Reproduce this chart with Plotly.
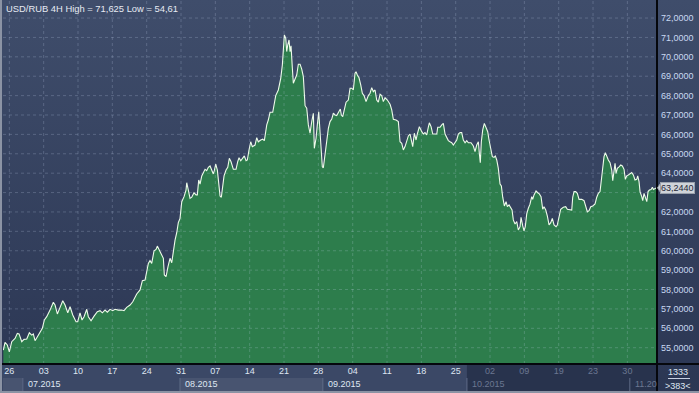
import base64
import pandas as pd
import plotly.graph_objects as go

# ---------------- data ----------------
START = "2015-06-26"
DAY_OFFSETS = [
    -1.22, -0.88, -0.41, 0.00, 0.49, 1.16, 1.63, 1.98, 2.53, 3.00, 3.55, 4.08, 4.57, 4.89, 5.24, 5.71,
    6.26, 6.73, 7.14, 7.62, 8.30, 8.97, 9.32, 9.79, 10.34, 10.89, 11.36, 11.91, 12.38, 12.93, 13.60, 13.94,
    14.41, 14.82, 15.23, 15.78, 16.11, 16.66, 17.27, 17.94, 18.49, 18.96, 19.51, 19.98, 20.53, 21.08, 21.55,
    22.22, 22.92, 23.38, 23.93, 24.61, 25.16, 25.97, 26.65, 27.12, 27.67, 28.01, 28.34, 28.68, 29.03, 29.50,
    29.91, 30.17, 30.58, 31.07, 31.40, 31.60, 31.95, 32.35, 32.76, 33.11, 33.44, 33.78, 34.13, 34.45, 34.80,
    34.94, 35.15, 35.62, 36.02, 36.17, 36.49, 36.84, 37.19, 37.65, 38.06, 38.33, 38.61, 38.88, 39.23, 39.55,
    39.90, 40.24, 40.57, 40.92, 41.26, 41.59, 41.79, 42.08, 42.41, 42.69, 42.96, 43.22, 43.51, 43.77, 44.18,
    44.53, 44.85, 45.20, 45.67, 46.22, 46.56, 46.83, 47.18, 47.58, 47.91, 48.26, 48.52, 48.87, 49.21, 49.54,
    50.09, 50.44, 50.76, 51.25, 51.66, 51.99, 52.13, 52.48, 52.80, 53.15, 53.70, 53.96, 54.31, 54.84, 55.33,
    55.66, 55.86, 56.07, 56.35, 56.55, 56.76, 57.02, 57.23, 57.43, 57.70, 57.90, 58.25, 58.59, 58.92, 59.27,
    59.61, 59.94, 60.29, 60.63, 60.96, 61.30, 61.65, 61.98, 62.18, 62.53, 62.79, 63.08, 63.34, 63.55, 63.81,
    64.02, 64.36, 64.71, 65.04, 65.38, 65.73, 66.06, 66.40, 66.75, 67.22, 67.48, 67.69, 67.97, 68.24, 68.65,
    69.11, 69.46, 69.81, 70.13, 70.48, 70.68, 70.95, 71.29, 71.64, 71.97, 72.32, 72.72, 73.19, 73.54, 73.88,
    74.21, 74.56, 74.90, 75.23, 75.58, 75.92, 76.25, 76.60, 77.07, 77.62, 77.96, 78.29, 78.84, 79.31, 79.65,
    80.00, 80.33, 80.67, 81.02, 81.35, 81.69, 82.04, 82.24, 82.57, 82.92, 83.18, 83.59, 84.08, 84.40, 84.75,
    85.10, 85.42, 85.63, 85.98, 86.32, 86.79, 87.14, 87.34, 87.81, 88.16, 88.48, 88.83, 89.18, 89.50, 89.85,
    90.19, 90.52, 90.87, 91.21, 91.54, 91.89, 92.23, 92.56, 92.91, 93.25, 93.58, 94.13, 94.60, 94.94, 95.29,
    95.62, 95.82, 96.02, 96.23, 96.51, 96.84, 97.19, 97.53, 97.80, 98.15, 98.47, 98.82, 99.08, 99.37, 99.69,
    100.04, 100.31, 100.59, 100.92, 101.27, 101.53, 101.88, 102.22, 102.49, 102.75, 103.10, 103.45, 103.77,
    104.12, 104.32, 104.67, 104.93, 105.19, 105.48, 105.81, 106.15, 106.50, 106.70, 106.97, 107.38, 107.73,
    108.05, 108.40, 108.74, 109.01, 109.36, 109.69, 110.03, 110.38, 110.70, 111.05, 111.46, 111.72, 112.07,
    112.41, 112.94, 113.43, 113.76, 114.31, 114.66, 114.86, 115.13, 115.47, 115.80, 116.15, 116.70, 117.17,
    117.51, 117.84, 118.19, 118.53, 118.94, 119.41, 119.76, 120.08, 120.43, 120.63, 120.90, 121.24, 121.51,
    121.79, 122.12, 122.47, 122.81, 123.02, 123.28, 123.49, 123.69, 123.96, 124.30, 124.65, 124.98, 125.32,
    125.59, 125.87, 126.20, 126.54, 126.89, 127.22, 127.56, 127.91, 128.11, 128.38, 128.58, 128.93, 129.13,
    129.40, 129.67, 129.96, 130.22, 130.49, 130.83, 131.10, 131.30, 131.65, 131.96,
]
USD_RUB = [
    54.88, 55.28, 55.14, 54.79, 55.31, 55.48, 55.74, 55.71, 55.31, 55.43, 55.45, 55.77, 55.65, 55.71, 55.36, 55.57,
    55.83, 56.00, 56.43, 56.60, 56.94, 57.34, 57.20, 56.74, 57.08, 57.42, 57.20, 56.80, 57.11, 56.69, 56.34, 56.34,
    56.80, 56.43, 56.60, 56.98, 56.60, 56.39, 56.63, 56.86, 56.91, 56.80, 56.94, 56.83, 56.98, 56.91, 56.98,
    56.94, 56.94, 56.91, 57.08, 57.20, 57.37, 57.77, 57.98, 58.46, 58.49, 58.87, 59.35, 59.49, 59.35, 60.00,
    60.07, 60.24, 60.00, 59.78, 59.61, 58.75, 58.66, 59.18, 59.61, 59.38, 60.04, 60.55, 60.93, 61.45, 61.67,
    62.07, 62.53, 62.79, 63.13, 63.51, 63.05, 62.70, 62.76, 62.99, 62.88, 62.88, 63.65, 63.44, 63.86, 64.03,
    64.20, 64.13, 64.30, 64.37, 64.16, 63.96, 64.13, 64.47, 64.16, 63.30, 62.82, 62.76, 63.34, 63.86, 64.16,
    64.30, 64.77, 64.59, 64.20, 64.20, 64.59, 64.80, 64.64, 64.77, 64.89, 64.64, 64.68, 65.20, 65.62, 65.37,
    65.45, 65.83, 65.62, 65.71, 65.75, 65.68, 65.97, 66.49, 66.74, 67.14, 67.14, 67.52, 68.00, 68.29, 68.89,
    69.58, 70.61, 71.13, 70.96, 70.27, 70.61, 70.87, 70.27, 70.57, 69.41, 68.64, 68.86, 69.06, 69.62, 69.62,
    69.37, 68.98, 67.48, 67.35, 66.49, 66.06, 66.66, 67.09, 65.28, 65.80, 66.49, 67.17, 66.14, 65.11, 64.33,
    64.28, 64.94, 65.54, 66.31, 66.66, 66.79, 67.09, 67.00, 66.97, 67.21, 67.31, 67.00, 66.91, 67.21, 67.66,
    67.77, 68.38, 68.38, 68.29, 69.15, 69.23, 69.06, 68.92, 68.55, 68.12, 68.00, 67.69, 68.00, 68.12, 68.41,
    68.20, 68.29, 67.77, 67.66, 68.07, 68.00, 67.69, 67.89, 67.77, 67.55, 67.26, 66.78, 66.74, 66.66, 65.62,
    65.54, 65.20, 65.37, 65.62, 65.92, 66.02, 65.45, 65.37, 66.06, 65.71, 66.02, 66.40, 66.14, 66.02, 66.09,
    65.97, 66.37, 66.60, 66.40, 66.02, 66.02, 66.02, 66.37, 66.37, 66.49, 66.57, 66.02, 65.85, 65.68, 65.62,
    65.57, 65.45, 65.57, 65.71, 66.02, 66.09, 66.09, 65.71, 65.57, 65.68, 65.57, 65.57, 65.40, 65.11, 65.45,
    65.62, 65.03, 64.54, 65.62, 66.23, 66.57, 66.31, 66.14, 65.71, 65.16, 64.85, 64.82, 64.89, 64.68, 64.25,
    63.44, 63.34, 62.76, 62.31, 62.53, 62.27, 62.36, 62.24, 62.10, 61.59, 61.38, 61.50, 61.07,
    61.24, 61.72, 61.28, 61.03, 61.24, 61.90, 62.19, 62.40, 62.79, 62.65, 62.88, 63.08, 62.99,
    62.93, 62.79, 62.14, 62.27, 62.10, 61.79, 61.33, 61.45, 61.67, 61.33, 61.24, 61.33, 61.76,
    62.14, 62.24, 62.27, 62.14, 62.10, 62.10, 62.76, 63.05, 63.05, 62.96, 62.65, 62.65, 62.58,
    62.27, 62.01, 62.07, 62.27, 62.31, 62.41, 62.76, 62.96, 63.05, 63.56, 64.16, 64.85, 65.06,
    64.85, 64.68, 64.54, 64.16, 63.61, 63.99, 64.51, 63.99, 64.25, 64.33, 64.42, 64.37, 64.20,
    63.68, 63.86, 63.91, 63.99, 64.03, 63.91, 63.65, 63.68, 63.86, 63.56, 63.05, 62.79, 62.58,
    62.96, 62.70, 62.53, 63.05, 63.13, 63.16, 63.27, 63.16, 63.22, 63.244,
]
LAST_PRICE = 63.244
TITLE = "USD/RUB 4H High = 71,625 Low = 54,61"

WEEK_TICKS = ["2015-06-26", "2015-07-03", "2015-07-10", "2015-07-17", "2015-07-24", "2015-07-31",
              "2015-08-07", "2015-08-14", "2015-08-21", "2015-08-28", "2015-09-04", "2015-09-11",
              "2015-09-18", "2015-09-25", "2015-10-02", "2015-10-09", "2015-10-16", "2015-10-23",
              "2015-10-30"]
WEEK_LABELS = ["26", "03", "10", "17", "24", "31", "07", "14", "21", "28", "04", "11", "18", "25",
               "02", "09", "19", "23", "30"]
DIM_FROM = "2015-10-01"
MONTH_MARKS = ["2015-06-28 18:00", "2015-07-30 19:00", "2015-08-28 22:00", "2015-09-27 07:00",
               "2015-10-30 12:00"]
MONTH_LABELS = ["07.2015", "08.2015", "09.2015", "10.2015", "11.20"]
PRICE_TICKS = [55, 56, 57, 58, 59, 60, 61, 62, 63, 64, 65, 66, 67, 68, 69, 70, 71, 72]
X_RANGE = ["2015-06-24 17:00", "2015-11-05 01:00"]
Y_RANGE = [54.16, 72.93]

# ---------------- geometry helpers ----------------
W, H = 699, 393
ML, MR, MT, MB = 3, 42, 0, 29
PW, PH = W - ML - MR, H - MT - MB


def px(x):
    return (x - ML) / PW


def py(y):
    return (H - MB - y) / PH


FONT = "Liberation Sans, Arial, sans-serif"
LIGHT = "#dfe6f2"
DIM = "#6b7791"

dates = pd.to_datetime(START) + pd.to_timedelta(DAY_OFFSETS, unit="D")

fig = go.Figure()
fig.add_trace(go.Scatter(
    x=dates, y=USD_RUB, mode="lines",
    line=dict(color="#eefbea", width=1.1),
    fill="tozeroy", fillcolor="#2d7d4c",
    hoverinfo="skip", showlegend=False,
))

# background gradient (svg data uri)
svg = ("<svg xmlns='http://www.w3.org/2000/svg' width='100' height='100' viewBox='0 0 100 100' "
       "preserveAspectRatio='none'><defs><linearGradient id='g' x1='0' y1='0' x2='0' y2='1'>"
       "<stop offset='0' stop-color='#3f4d6b'/><stop offset='1' stop-color='#2b3653'/>"
       "</linearGradient></defs><rect width='100' height='100' fill='url(#g)'/></svg>")
src = "data:image/svg+xml;base64," + base64.b64encode(svg.encode()).decode()
images = [dict(source=src, xref="paper", yref="paper", x=px(0), y=py(0),
               sizex=px(W) - px(0), sizey=py(0) - py(H), xanchor="left", yanchor="top",
               sizing="stretch", layer="below")]

shapes = []
# bottom axis band
shapes.append(dict(type="rect", xref="paper", yref="paper", x0=px(0), x1=px(657), y0=py(391), y1=py(364),
                   fillcolor="#3b4866", line_width=0, layer="below"))
# dimmed future region in axis band
shapes.append(dict(type="rect", xref="x", yref="paper", x0=MONTH_MARKS[3], x1=X_RANGE[1],
                   y0=py(391), y1=py(364), fillcolor="rgba(18,26,46,0.45)", line_width=0, layer="below"))
# lighter month blocks
shapes.append(dict(type="rect", xref="x", yref="paper", x0=MONTH_MARKS[1], x1=MONTH_MARKS[2],
                   y0=py(391), y1=py(378), fillcolor="rgba(255,255,255,0.07)", line_width=0, layer="below"))
shapes.append(dict(type="rect", xref="paper", yref="paper", x0=px(3), x1=px(22), y0=py(391), y1=py(378),
                   fillcolor="rgba(255,255,255,0.07)", line_width=0, layer="below"))
for m in MONTH_MARKS:
    shapes.append(dict(type="line", xref="x", yref="paper", x0=m, x1=m, y0=py(391), y1=py(378),
                       line=dict(color="#5f6b87", width=1), layer="below"))
# grid lines drawn above the area
GRID = dict(color="rgba(205,220,245,0.22)", width=1, dash="3px,3px")
for v in PRICE_TICKS:
    shapes.append(dict(type="line", xref="paper", yref="y", x0=0, x1=1, y0=v, y1=v, line=GRID, layer="above"))
for t in WEEK_TICKS:
    shapes.append(dict(type="line", xref="x", yref="paper", x0=t, x1=t, y0=0, y1=1, line=GRID, layer="above"))
# frame lines
shapes.append(dict(type="line", xref="paper", yref="paper", x0=px(0), x1=px(W), y0=py(364), y1=py(364),
                   line=dict(color="#05070c", width=2), layer="above"))
shapes.append(dict(type="line", xref="paper", yref="paper", x0=px(657), x1=px(657), y0=py(0), y1=py(H),
                   line=dict(color="#05070c", width=2), layer="above"))
shapes.append(dict(type="rect", xref="paper", yref="paper", x0=px(0), x1=px(2), y0=py(H), y1=py(0),
                   fillcolor="#8b93a4", line_width=0, layer="above"))
shapes.append(dict(type="rect", xref="paper", yref="paper", x0=px(0), x1=px(W), y0=py(H), y1=py(391),
                   fillcolor="#8b93a4", line_width=0, layer="above"))
shapes.append(dict(type="line", xref="paper", yref="paper", x0=px(668), x1=px(690), y0=py(378.5), y1=py(378.5),
                   line=dict(color="#c7d0e2", width=1), layer="above"))
# price marker arrow
dv = 0.27
shapes.append(dict(type="path", xref="paper", yref="y",
                   path=f"M {px(657.5)},{LAST_PRICE} L {px(661)},{LAST_PRICE + dv} L {px(661)},{LAST_PRICE - dv} Z",
                   fillcolor="#cfd3d9", line=dict(color="#9aa1ad", width=1), layer="above"))

annotations = [
    dict(text=TITLE, xref="paper", yref="paper", x=px(4), y=py(8.5), xanchor="left", yanchor="middle",
         showarrow=False, font=dict(family=FONT, size=9.4, color="#e6eaf2")),
    dict(text=f"{LAST_PRICE:.4f}".replace(".", ","), xref="paper", yref="y", x=px(660), y=LAST_PRICE,
         xanchor="left", yanchor="middle", showarrow=False, bgcolor="#cfd3d9", bordercolor="#9aa1ad",
         borderwidth=1, borderpad=0, font=dict(family=FONT, size=9, color="#1f2636")),
    dict(text="1333", xref="paper", yref="paper", x=px(678.5), y=py(372), xanchor="center", yanchor="middle",
         showarrow=False, font=dict(family=FONT, size=9, color=LIGHT)),
    dict(text="&gt;383&lt;", xref="paper", yref="paper", x=px(678.5), y=py(385.5), xanchor="center",
         yanchor="middle", showarrow=False, font=dict(family=FONT, size=9, color=LIGHT)),
]
for m, lab in zip(MONTH_MARKS, MONTH_LABELS):
    annotations.append(dict(text=lab, xref="x", yref="paper", x=m, y=py(384), xanchor="left", yanchor="middle",
                            xshift=3, showarrow=False,
                            font=dict(family=FONT, size=9, color=DIM if m >= MONTH_MARKS[3] else LIGHT)))

tick_text = [f"<span style='color:{DIM}'>{l}</span>" if t >= DIM_FROM else l
             for t, l in zip(WEEK_TICKS, WEEK_LABELS)]
# the last-price marker hides the price label it sits on (as in the reference)
price_text = ["" if abs(v - LAST_PRICE) < 0.5 else f"{v},0000" for v in PRICE_TICKS]

fig.update_layout(
    width=W, height=H, autosize=False,
    margin=dict(l=ML, r=MR, t=MT, b=MB, pad=0),
    paper_bgcolor="#36435f", plot_bgcolor="rgba(0,0,0,0)",
    images=images, shapes=shapes, annotations=annotations,
    showlegend=False,
    xaxis=dict(type="date", range=X_RANGE, tickvals=WEEK_TICKS, ticktext=tick_text, ticks="",
               showgrid=False, zeroline=False, showline=False, fixedrange=True,
               tickfont=dict(family=FONT, size=9, color=LIGHT)),
    yaxis=dict(side="right", range=Y_RANGE, tickvals=PRICE_TICKS,
               ticktext=price_text, ticks="", showgrid=False, zeroline=False,
               showline=False, fixedrange=True, ticklabelstandoff=3,
               tickfont=dict(family=FONT, size=9, color="#c9d9f2")),
)

fig.write_html("out.html", config={"displayModeBar": False},
               post_script="document.body.style.margin='0';document.body.style.overflow='hidden';")
